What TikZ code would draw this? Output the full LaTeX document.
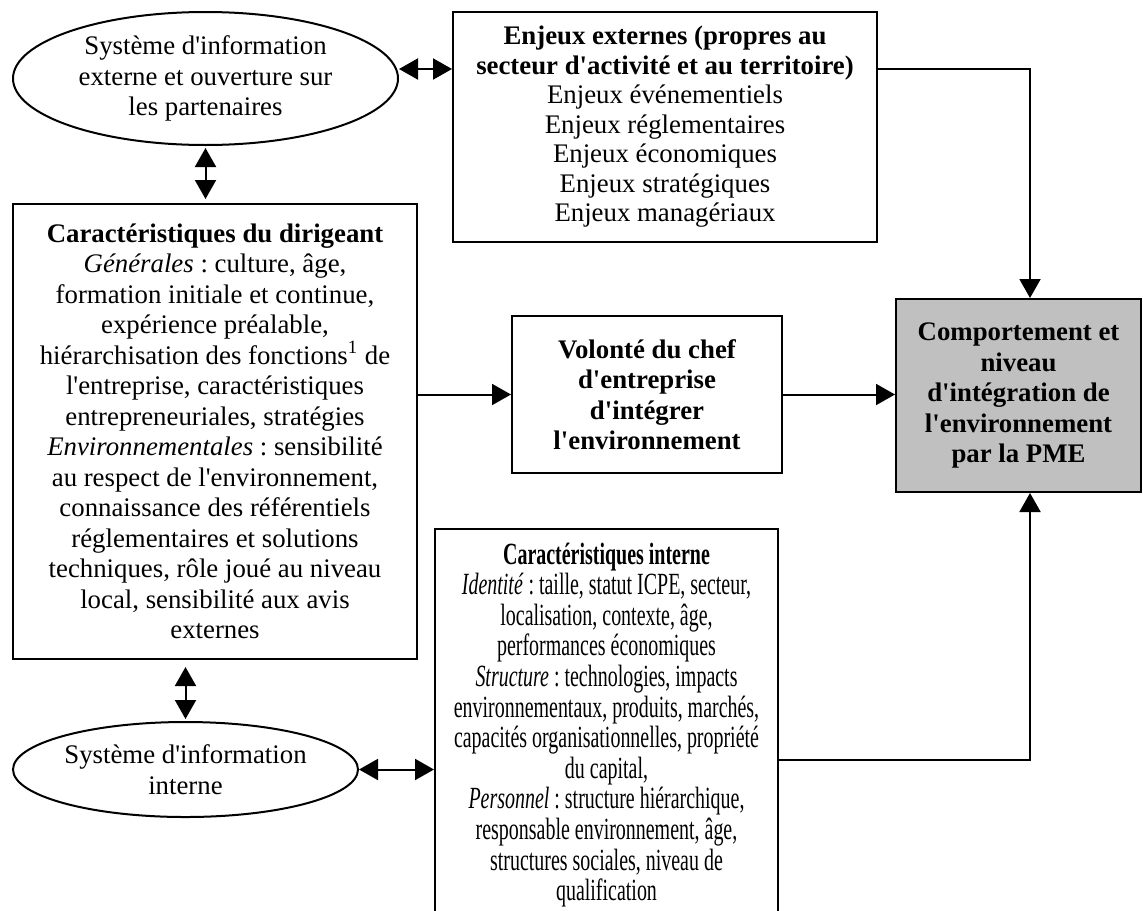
\documentclass[tikz,border=0pt]{standalone}
\usepackage{fontspec}
\setmainfont{Liberation Serif}[Ligatures=TeXOff]
\newfontfamily\etroit{Liberation Serif}[Ligatures=TeXOff,FakeStretch=0.648]
\usetikzlibrary{arrows.meta,positioning,calc,shapes.geometric}
\definecolor{pmegray}{RGB}{192,192,192}
\frenchspacing

\begin{document}
\begin{tikzpicture}[x=0.5pt,y=-0.5pt,>={Triangle[length=9.5pt,width=10.5pt]},line width=1pt,
 font=\fontsize{13.4}{15.25}\selectfont,
 box/.style={draw,align=center,inner sep=0pt},
 bulle/.style={draw,ellipse,align=center,inner sep=0pt}]
\useasboundingbox (0,0) rectangle (1143,910);
% ellipses (systemes d'information)
\node[bulle,minimum width=192.5pt,minimum height=66.5pt] (sie) at (205.5,78.5)
 {Système d'information\\externe et ouverture sur\\les partenaires};
\node[bulle,minimum width=172.5pt,minimum height=47.5pt] (sii) at (185.5,769.5)
 {Système d'information\\interne};
% boxes
\node[box,minimum width=212pt,minimum height=115pt,font=\fontsize{13.4}{14.75}\selectfont] (ext) at (665,127)
 {\textbf{Enjeux externes (propres au}\\\textbf{secteur d'activité et au territoire)}\\Enjeux événementiels\\Enjeux réglementaires\\Enjeux économiques\\Enjeux stratégiques\\Enjeux managériaux};
\node[box,minimum width=202pt,minimum height=227.5pt] (dir) at (215,431.5)
 {\textbf{Caractéristiques du dirigeant}\\\textit{Générales} : culture, âge,\\formation initiale et continue,\\expérience préalable,\\hiérarchisation des fonctions\textsuperscript{1} de\\l'entreprise, caractéristiques\\entrepreneuriales, stratégies\\\textit{Environnementales} : sensibilité\\au respect de l'environnement,\\connaissance des référentiels\\réglementaires et solutions\\techniques, rôle joué au niveau\\local, sensibilité aux avis\\externes};
\node[box,minimum width=135pt,minimum height=78.5pt,font=\fontsize{13.4}{15.25}\selectfont\bfseries] (vol) at (647,394.5)
 {Volonté du chef\\d'entreprise\\d'intégrer\\l'environnement};
\node[box,fill=pmegray,minimum width=122.5pt,minimum height=96.5pt,font=\fontsize{13.4}{15.25}\selectfont\bfseries] (pme) at (1018.5,395.5)
 {Comportement et\\niveau\\d'intégration de\\l'environnement\\par la PME};
\node[box,minimum width=171.5pt,minimum height=196pt,font=\fontsize{15.4}{15.3}\selectfont\etroit] (int) at (606.5,725)
 {\textbf{Caractéristiques interne}\\\textit{Identité} : taille, statut ICPE, secteur,\\localisation, contexte, âge,\\performances économiques\\\textit{Structure} : technologies, impacts\\environnementaux, produits, marchés,\\capacités organisationnelles, propriété\\du capital,\\\textit{Personnel} : structure hiérarchique,\\responsable environnement, âge,\\structures sociales, niveau de\\qualification};
% connectors
\coordinate (haut) at (1030,69);
\draw[<->] (sie.east |- haut) -- (ext.west |- haut);
\draw[<->,shorten <=1pt,shorten >=2pt] (sie.south) -- (sie.south |- dir.north);
\draw[->] (ext.east |- haut) -| (pme.north -| haut);
\draw[->] (vol.west -| dir.east) -- (vol.west);
\draw[->] (vol.east) -- (vol.east -| pme.west);
\draw[<->,shorten <=3.5pt,shorten >=1pt] (sii.north |- dir.south) -- (sii.north);
\draw[<->] (sii.east) -- (sii.east -| int.west);
\draw[->] ([yshift=-17.5pt]int.east) -| (pme.south -| haut);
\end{tikzpicture}
\end{document}
